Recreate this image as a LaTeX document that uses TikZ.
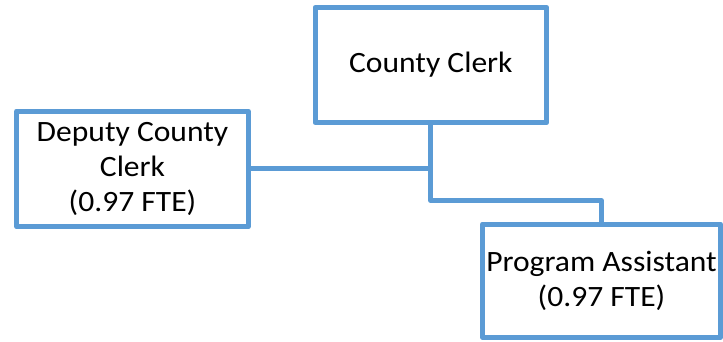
\documentclass[tikz,border=0pt]{standalone}
\usepackage{fontspec}
\newfontfamily\orgfont{Carlito}[FakeStretch=1.07]
\definecolor{orgblue}{RGB}{91,155,213}

\begin{document}
\begin{tikzpicture}[x=1pt,y=-1pt,
  post/.style={draw=orgblue,line width=5pt,line join=round,align=center,
    font=\orgfont\fontsize{29.5}{35}\selectfont,inner sep=0pt},
  link/.style={draw=orgblue,line width=5pt,line join=round}]

%\draw[help lines] (0,0) grid[step=20] (723,342);
\useasboundingbox (0,0) rectangle (723,342);

\node[post,minimum width=231.7pt,minimum height=115.4pt] (clerk) at (430.9,65) {County Clerk};
\node[post,minimum width=231.6pt,minimum height=115.7pt] (deputy) at (132.5,168.9) {Deputy County\\Clerk\\(0.97 FTE)};
\node[post,minimum width=238pt,minimum height=113.3pt] (assist) at (601.5,280.7) {Program Assistant\\(0.97 FTE)};

\coordinate (split) at (430.9,200.7);

\draw[link] (deputy.east) -- (deputy.east -| clerk.south);
\draw[link] (clerk.south) -- (split) -| (assist.north);

\end{tikzpicture}
\end{document}
